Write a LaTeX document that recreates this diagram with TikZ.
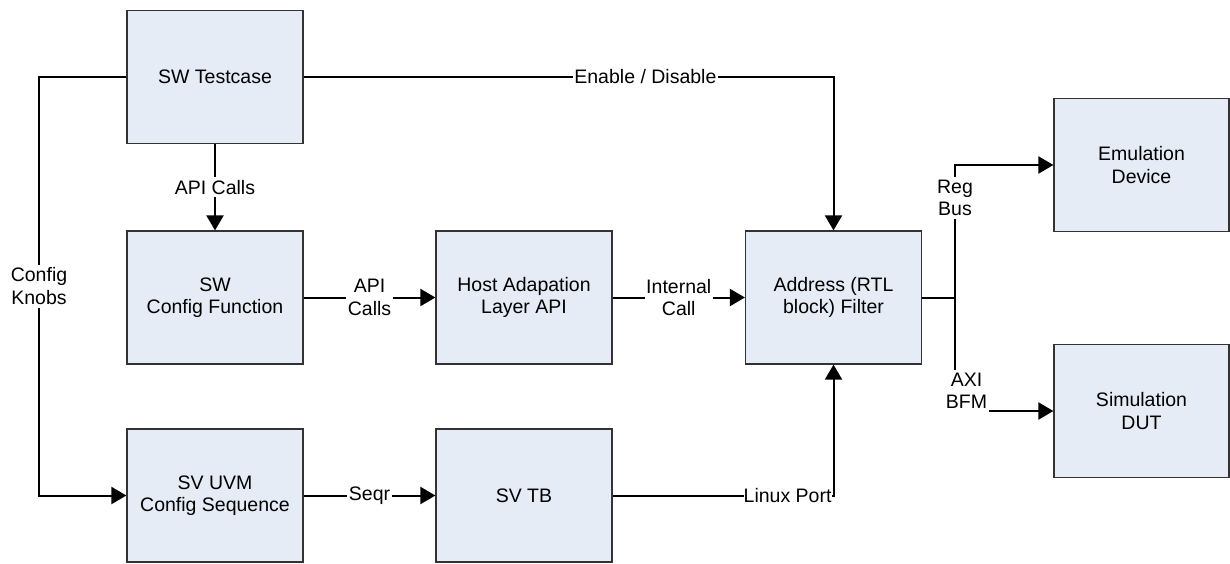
\documentclass[tikz,border=0pt]{standalone}
\usepackage{fontspec}
\setmainfont{Liberation Sans}
\usetikzlibrary{arrows.meta}
\definecolor{boxfill}{HTML}{E5ECF6}
\definecolor{boxline}{HTML}{333333}
\begin{document}
\begin{tikzpicture}[x=1pt,y=-1pt,
  blk/.style={draw=boxline, line width=1.2pt, fill=boxfill, minimum width=176pt,
    minimum height=133pt, align=center, font=\fontsize{19.5}{22.5}\selectfont, inner sep=0pt},
  conn/.style={line width=2pt, draw=black},
  arr/.style={conn, -{Triangle[length=15pt,width=17pt]}},
  lab/.style={fill=white, inner xsep=1.5pt, inner ysep=3pt, align=center,
    font=\fontsize{19.5}{22.5}\selectfont},
]
\useasboundingbox (0,0) rectangle (1230,563);

\node[blk] (tc)  at (215,77)    {SW Testcase};
\node[blk] (cf)  at (215,297.5) {SW\\Config Function};
\node[blk] (uvm) at (215,495.5) {SV UVM\\Config Sequence};
\node[blk] (hal) at (524,297.5) {Host Adapation\\Layer API};
\node[blk] (tb)  at (524,495.5) {SV TB};
\node[blk] (af)  at (833.5,297.5) {Address (RTL\\block) Filter};
\node[blk, minimum width=175pt] (emu) at (1141.5,165) {Emulation\\Device};
\node[blk, minimum width=175pt] (sim) at (1141.5,411) {Simulation\\DUT};

\coordinate (k1) at (39,77);
\coordinate (k2) at (39,495.5);
\coordinate (ec) at (af.north |- tc.east);
\coordinate (lc) at (af.south |- tb.east);
\coordinate (j)  at (955,297.5);
\coordinate (rb) at (j |- emu.west);
\coordinate (ax) at (j |- sim.west);

\draw[arr] (tc.south) -- node[lab]{API Calls} (cf.north);
\draw[arr] (cf.east) -- node[lab]{API\\Calls} (hal.west);
\draw[arr] (hal.east) -- node[lab]{Internal\\Call} (af.west);
\draw[arr] (uvm.east) -- node[lab]{Seqr} (tb.west);
\draw[arr] (tc.east) -- node[lab,pos=0.645]{Enable / Disable} (ec) -- (af.north);
\draw[arr] (tc.west) -- (k1) -- node[lab]{Config\\Knobs} (k2) -- (uvm.west);
\draw[arr] (tb.east) -- node[lab,pos=1,anchor=east,xshift=-1pt,inner xsep=0pt]{Linux Port} (lc) -- (af.south);
\draw[conn] (af.east) -- (j);
\draw[arr] (j) -- node[lab,pos=0.75]{Reg\\Bus} (rb) -- (emu.west);
\draw[arr] (j) -- (ax) -- (sim.west);
\node[lab, anchor=south] (axl) at (966.5,412) {AXI\\BFM};
\end{tikzpicture}
\end{document}
